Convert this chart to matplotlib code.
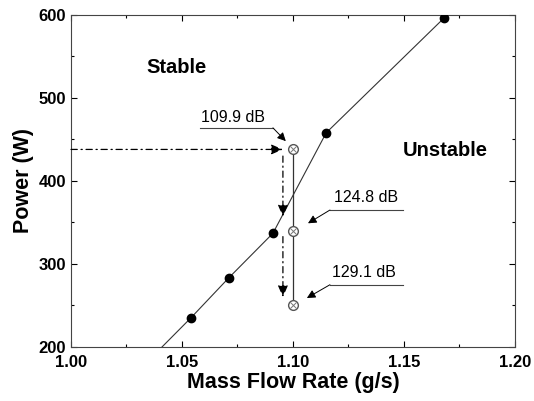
import numpy as np
import matplotlib
matplotlib.use('Agg')
import matplotlib.pyplot as plt

plt.rcParams['font.family'] = ['Liberation Sans', 'DejaVu Sans']

#measured points
flow = [1.054, 1.071, 1.091, 1.115, 1.168]
power = [235, 283, 337, 458, 596]

#line through the points (starts at the bottom axis)
line_flow = [1.041, 1.054, 1.071, 1.091, 1.115, 1.168]
line_power = [200, 235, 283, 337, 458, 596]

#open markers at 1.10 g/s
open_flow = [1.10, 1.10, 1.10]
open_power = [438, 340, 250]
db_labels = ['109.9 dB', '124.8 dB', '129.1 dB']

fig = plt.figure(figsize=(5.34, 4.01), dpi=100)
ax = fig.add_axes([0.133, 0.1347, 0.831, 0.828])

ax.plot(line_flow, line_power, color='#333333', lw=0.8, zorder=2)
ax.plot(flow, power, 'o', color='black', ms=6, zorder=3)

#solid vertical line between open markers
ax.plot([1.10, 1.10], [open_power[0], open_power[2]], color='#333333', lw=0.9, zorder=2)
ax.plot(open_flow, open_power, 'o', mfc='white', mec='#555555', ms=7, mew=1.0, zorder=4)
ax.plot(open_flow, open_power, 'x', color='#777777', ms=4, mew=0.7, zorder=5)

#dash-dot arrows
arr = dict(arrowstyle='-|>,head_length=0.7,head_width=0.3', color='black', lw=0.9,
           linestyle=(0, (5, 3, 1, 3)), shrinkA=0, shrinkB=0)
ax.annotate('', xy=(1.0955, open_power[0]), xytext=(1.0, open_power[0]), arrowprops=arr)
ax.annotate('', xy=(1.0955, 357), xytext=(1.0955, 430), arrowprops=arr)
ax.annotate('', xy=(1.0955, 260), xytext=(1.0955, 333), arrowprops=arr)

#dB labels with leader lines
text_pos = [(1.073, 476), (1.133, 380), (1.132, 290)]
under_x = [(1.058, 1.091), (1.1167, 1.1495), (1.1167, 1.1495)]
under_y = [464, 365, 275]
tips = [(1.0968, 448), (1.1068, 349), (1.1063, 259)]
for i, lab in enumerate(db_labels):
    ax.text(text_pos[i][0], text_pos[i][1], lab, ha='center', va='center', fontsize=11.5)
    ax.plot(under_x[i], [under_y[i], under_y[i]], color='#444444', lw=0.8)
    x0 = under_x[i][1] if i == 0 else under_x[i][0]
    ax.annotate('', xy=tips[i], xytext=(x0, under_y[i]),
                arrowprops=dict(arrowstyle='-|>,head_length=0.5,head_width=0.25',
                                color='black', lw=0.7, shrinkA=0, shrinkB=0))

ax.text(1.0477, 537, 'Stable', ha='center', va='center', fontsize=14.5, fontweight='bold')
ax.text(1.1685, 437, 'Unstable', ha='center', va='center', fontsize=14.5, fontweight='bold')

ax.set_xlim(1.0, 1.2)
ax.set_ylim(200, 600)
ax.set_xticks([1.00, 1.05, 1.10, 1.15, 1.20])
ax.set_xticklabels(['1.00', '1.05', '1.10', '1.15', '1.20'])
ax.set_yticks([200, 300, 400, 500, 600])
ax.set_xticks(np.arange(1.025, 1.2, 0.05), minor=True)
ax.set_yticks(np.arange(250, 600, 100), minor=True)
ax.tick_params(which='both', direction='in', top=True, right=True, width=0.8)
ax.tick_params(which='major', length=4, labelsize=12)
ax.tick_params(axis='x', which='major', pad=6)
ax.tick_params(which='minor', length=2)
for lab in ax.get_xticklabels() + ax.get_yticklabels():
    lab.set_fontweight('bold')
for s in ax.spines.values():
    s.set_linewidth(0.8)
    s.set_color('#444444')

ax.set_xlabel('Mass Flow Rate (g/s)', fontsize=15.5, fontweight='bold', labelpad=1)
ax.set_ylabel('Power (W)', fontsize=15.5, fontweight='bold', labelpad=3)

plt.savefig('out.png', dpi=100)
